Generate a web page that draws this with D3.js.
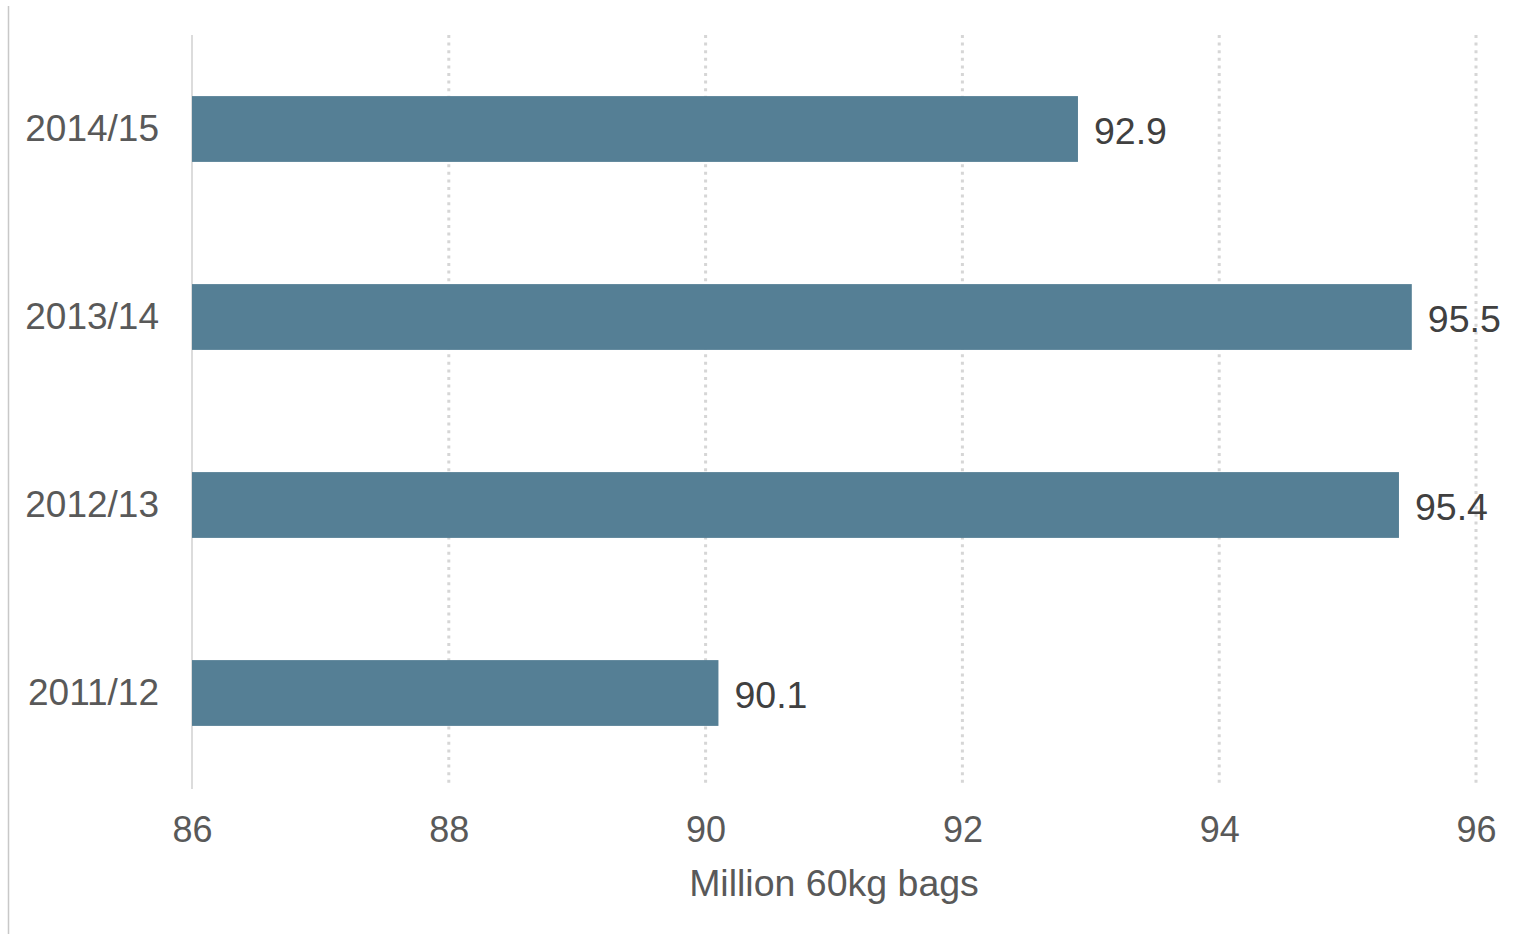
<!DOCTYPE html>
<html>
<head>
<meta charset="utf-8">
<script src="https://cdn.jsdelivr.net/npm/d3@7"></script>
<style>
    body { margin: 0; background: #fff; }
    svg { display: block; font-family: "Liberation Sans", Arial, sans-serif; }
</style>
</head>
<body>
<div id="chart"></div>
<script>
// data, top to bottom as shown
const seasons = ['2014/15', '2013/14', '2012/13', '2011/12'];
const production = [92.9, 95.5, 95.4, 90.1];
const xTicks = [86, 88, 90, 92, 94, 96];
const xTitle = 'Million 60kg bags';

const width = 1516, height = 934;
const margin = { top: 35, right: 40, bottom: 147, left: 192 };

const svg = d3.select('#chart')
    .append('svg')
    .attr('width', width)
    .attr('height', height);

// thin frame line at the far left
svg.append('line')
    .attr('x1', 8.5).attr('x2', 8.5)
    .attr('y1', 6).attr('y2', height)
    .attr('stroke', '#c8c8c8')
    .attr('stroke-width', 1.5);

const x = d3.scaleLinear()
    .domain([86, 96])
    .range([margin.left, width - margin.right]);

const y = d3.scaleBand()
    .domain(seasons)
    .range([margin.top, height - margin.bottom])
    .paddingInner(0.65)
    .paddingOuter(0.325);

// dotted gridlines
svg.append('g')
    .selectAll('line')
    .data(xTicks.slice(1))
    .enter()
    .append('line')
    .attr('x1', d => x(d)).attr('x2', d => x(d))
    .attr('y1', margin.top).attr('y2', height - margin.bottom - 2)
    .attr('stroke', '#d6d6d6')
    .attr('stroke-width', 3)
    .attr('stroke-dasharray', '3 4.6');

// solid baseline at the left of the plot
svg.append('line')
    .attr('x1', x(86)).attr('x2', x(86))
    .attr('y1', margin.top).attr('y2', height - margin.bottom + 2)
    .attr('stroke', '#dcdcdc')
    .attr('stroke-width', 2);

const rows = seasons.map((s, i) => ({ season: s, value: production[i] }));

svg.append('g')
    .selectAll('rect')
    .data(rows)
    .enter()
    .append('rect')
    .attr('x', x(86))
    .attr('y', d => y(d.season))
    .attr('width', d => x(d.value) - x(86))
    .attr('height', y.bandwidth())
    .attr('fill', '#557f95');

// value labels
svg.append('g')
    .selectAll('text')
    .data(rows)
    .enter()
    .append('text')
    .attr('x', d => x(d.value) + 16)
    .attr('y', d => y(d.season) + y.bandwidth() / 2 + 2)
    .attr('dominant-baseline', 'central')
    .attr('font-size', '37.5px')
    .attr('fill', '#404040')
    .text(d => d.value.toFixed(1));

// category labels
const yAxis = svg.append('g')
    .attr('transform', `translate(${margin.left},0)`)
    .call(d3.axisLeft(y).tickSize(0).tickPadding(33));
yAxis.select('.domain').remove();
yAxis.selectAll('text')
    .attr('font-size', '37px')
    .attr('font-family', '"Liberation Sans", Arial, sans-serif')
    .attr('fill', '#595959');

// x axis
const xAxis = svg.append('g')
    .attr('transform', `translate(0,${height - margin.bottom})`)
    .call(d3.axisBottom(x).tickValues(xTicks).tickSize(0).tickPadding(29));
xAxis.select('.domain').remove();
xAxis.selectAll('text')
    .attr('font-size', '36px')
    .attr('font-family', '"Liberation Sans", Arial, sans-serif')
    .attr('fill', '#595959');

svg.append('text')
    .attr('x', (x(86) + x(96)) / 2)
    .attr('y', 883)
    .attr('text-anchor', 'middle')
    .attr('dominant-baseline', 'central')
    .attr('font-size', '37.5px')
    .attr('fill', '#595959')
    .text(xTitle);
</script>
</body>
</html>
